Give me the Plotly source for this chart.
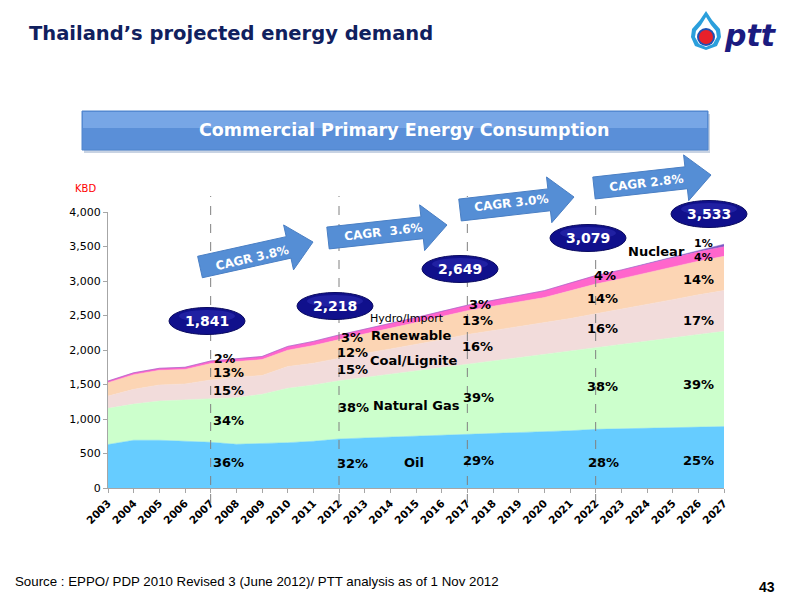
import math
import plotly.graph_objects as go

# ---- data (KBD) ----
years = [str(y) for y in range(2003, 2028)]

oil = [630, 692, 692, 677, 663, 634, 643, 657, 677, 710, 725, 738, 748,
       758, 768, 785, 800, 815, 830, 850, 858, 866, 874, 882, 890]
natural_gas = [524, 524, 568, 598, 626, 675, 715, 788, 816, 843, 877, 912, 952,
               992, 1033, 1065, 1095, 1125, 1155, 1182, 1222, 1264, 1306, 1343, 1380]
coal_lignite = [179, 214, 233, 233, 276, 296, 272, 315, 316, 332, 348, 365, 380,
                400, 424, 430, 440, 450, 470, 493, 510, 530, 550, 575, 592]
renewable = [192, 212, 212, 210, 239, 225, 231, 237, 256, 266, 282, 295, 317,
             334, 345, 355, 363, 370, 403, 431, 444, 460, 476, 487, 495]
hydro_import = [25, 28, 30, 32, 37, 40, 45, 55, 60, 67, 68, 70, 73,
                76, 79, 85, 92, 100, 112, 123, 126, 130, 134, 138, 141]
nuclear = [0] * 23 + [15, 35]

milestone_years = ["2007", "2012", "2017", "2022", "2027"]
milestone_totals = ["1,841", "2,218", "2,649", "3,079", "3,533"]
cagr_labels = ["CAGR 3.8%", "CAGR  3.6%", "CAGR 3.0%", "CAGR 2.8%"]

series = [
    ("Oil", oil, "#66CCFF"),
    ("Natural Gas", natural_gas, "#CCFFCC"),
    ("Coal/Lignite", coal_lignite, "#F2DCDB"),
    ("Renewable", renewable, "#FCD5B4"),
    ("Hydro/Import", hydro_import, "#FF66CC"),
    ("Nuclear", nuclear, "#7B5CC4"),
]

# ---- page geometry (pixels -> paper) ----
ML, MR, MT, MB = 108, 76, 212, 112
PW, PH = 800 - ML - MR, 600 - MT - MB


def px(x):
    return (x - ML) / PW


def py(y):
    return (600 - MB - y) / PH


def path_of(points):
    return "M " + " L ".join(f"{px(a):.4f},{py(b):.4f}" for a, b in points) + " Z"


def note(txt, x, y, size=13, color="black", bold=True, anchor="center", angle=0, family="DejaVu Sans"):
    return dict(x=px(x), y=py(y), xref="paper", yref="paper", text=txt, showarrow=False,
                xanchor=anchor, yanchor="middle", textangle=angle,
                font=dict(family=family, size=size, color=color,
                          weight="bold" if bold else "normal"))


fig = go.Figure()
for name, vals, col in series:
    fig.add_trace(go.Scatter(
        x=years, y=vals, name=name, stackgroup="one", mode="lines",
        line=dict(width=0.5, color=col), fillcolor=col, hoverinfo="skip"))

shapes = []
annotations = []

# dashed milestone lines
for yr in milestone_years[:4]:
    i = years.index(yr)
    shapes.append(dict(type="line", xref="x", yref="paper", x0=i, x1=i,
                       y0=py(503), y1=py(196),
                       line=dict(color="#808080", width=1, dash="dash")))

# CAGR arrows
arrows = [((200, 267), (313, 242)), ((328, 238), (447, 225)),
          ((460, 210), (574, 197)), ((594, 188), (711, 175))]
for (x0, y0), (x1, y1) in arrows:
    ang = math.atan2(y1 - y0, x1 - x0)
    ln = math.hypot(x1 - x0, y1 - y0)
    bh, hh, hl = 22, 46, 25
    loc = [(0, -bh / 2), (ln - hl, -bh / 2), (ln - hl, -hh / 2), (ln, 0),
           (ln - hl, hh / 2), (ln - hl, bh / 2), (0, bh / 2)]
    pts = [(x0 + u * math.cos(ang) - v * math.sin(ang),
            y0 + u * math.sin(ang) + v * math.cos(ang)) for u, v in loc]
    shapes.append(dict(type="path", xref="paper", yref="paper", path=path_of(pts),
                       fillcolor="#558ED5", line=dict(color="#4A7FC4", width=1)))

cagr_pos = [(252, 258, -13), (383, 232, -6.5), (511, 203, -6.5), (646, 183, -6.5)]
for (cx, cy, a), txt in zip(cagr_pos, cagr_labels):
    annotations.append(note(txt, cx, cy, size=12, color="white", angle=a))

# total bubbles
bubble_pos = [(207, 321), (335, 306), (460, 269), (588, 238), (709, 214)]
for (cx, cy), txt in zip(bubble_pos, milestone_totals):
    shapes.append(dict(type="circle", xref="paper", yref="paper",
                       x0=px(cx - 38), x1=px(cx + 38), y0=py(cy + 13.5), y1=py(cy - 13.5),
                       fillcolor="#10108C", line=dict(color="#0A0A60", width=1)))
    shapes.append(dict(type="circle", xref="paper", yref="paper",
                       x0=px(cx - 28), x1=px(cx + 28), y0=py(cy + 1), y1=py(cy - 11),
                       fillcolor="#2C2CB0", opacity=0.6, line=dict(width=0)))
    annotations.append(note(txt, cx, cy, size=14, color="white"))

# in-chart labels: (text, x, y, anchor, bold, size)
labels = [
    ("2%", 212, 358, "left", True, 12.5), ("13%", 211, 372, "left", True, 13),
    ("15%", 211, 390, "left", True, 13), ("34%", 211, 420, "left", True, 13),
    ("36%", 211, 462, "left", True, 13),
    ("3%", 339, 337, "left", True, 13), ("12%", 335, 352, "left", True, 13),
    ("15%", 335, 369, "left", True, 13), ("38%", 336, 407, "left", True, 13),
    ("32%", 335, 463, "left", True, 13),
    ("Hydro/Import", 368, 318, "left", False, 11), ("Renewable", 369, 335, "left", True, 13),
    ("Coal/Lignite", 368, 360, "left", True, 13), ("Natural Gas", 371, 405, "left", True, 13),
    ("Oil", 414, 462, "center", True, 13),
    ("3%", 480, 304, "center", True, 13), ("13%", 460, 320, "left", True, 13),
    ("16%", 460, 346, "left", True, 13), ("39%", 461, 397, "left", True, 13),
    ("29%", 461, 460, "left", True, 13),
    ("4%", 605, 275, "center", True, 13), ("14%", 585, 298, "left", True, 13),
    ("16%", 585, 328, "left", True, 13), ("38%", 585, 386, "left", True, 13),
    ("28%", 586, 462, "left", True, 13),
    ("Nuclear", 656, 251, "center", True, 13), ("1%", 703, 243, "center", True, 11),
    ("4%", 703, 257, "center", True, 11), ("14%", 698, 279, "center", True, 13),
    ("17%", 698, 320, "center", True, 13), ("39%", 698, 384, "center", True, 13),
    ("25%", 698, 460, "center", True, 13),
]
for txt, x, y, anc, bold, size in labels:
    annotations.append(note(txt, x, y, size=size, bold=bold, anchor=anc))

# KBD unit
annotations.append(note("KBD", 85, 188, size=10, color="#FF0000", bold=False))

# banner
shapes.append(dict(type="rect", xref="paper", yref="paper", x0=px(84), x1=px(710),
                   y0=py(153), y1=py(114), fillcolor="#C8D3E3", line=dict(width=0)))
shapes.append(dict(type="rect", xref="paper", yref="paper", x0=px(82), x1=px(708),
                   y0=py(150), y1=py(111), fillcolor="#5A8FD8", line=dict(color="#4F84CC", width=1)))
shapes.append(dict(type="rect", xref="paper", yref="paper", x0=px(83), x1=px(707),
                   y0=py(128), y1=py(112), fillcolor="#77A6E6", line=dict(width=0)))
annotations.append(note("Commercial Primary Energy Consumption", 404, 130, size=17.5, color="white"))

# title
annotations.append(note("Thailand’s projected energy demand", 27, 33, size=19.5,
                        color="#10205E", anchor="left"))

# ptt logo
drop_outer = [(706, 11), (712, 20), (720, 29), (721, 37), (717, 46), (706, 50),
              (695, 46), (691, 37), (692, 29), (700, 20)]
drop_white = [(706, 17), (711, 25), (716, 31), (717, 37), (713, 44), (706, 47),
              (699, 44), (695, 37), (696, 31), (701, 25)]
shapes.append(dict(type="path", xref="paper", yref="paper", path=path_of(drop_outer),
                   fillcolor="#2B9FDC", line=dict(width=0)))
shapes.append(dict(type="path", xref="paper", yref="paper", path=path_of(drop_white),
                   fillcolor="white", line=dict(width=0)))
shapes.append(dict(type="circle", xref="paper", yref="paper", x0=px(697), x1=px(715),
                   y0=py(46), y1=py(28), fillcolor="#1E50B4", line=dict(width=0)))
shapes.append(dict(type="circle", xref="paper", yref="paper", x0=px(699), x1=px(713),
                   y0=py(44), y1=py(30), fillcolor="#E8202A", line=dict(width=0)))
annotations.append(note("<i>ptt</i>", 722, 35, size=30, color="#1B1B80", anchor="left"))

# source and page number
annotations.append(note("Source : EPPO/ PDP 2010 Revised 3 (June 2012)/ PTT analysis as of 1 Nov 2012",
                        13, 581, size=13.3, bold=False, anchor="left", family="Liberation Sans"))
annotations.append(note("43", 767, 587, size=14, family="Liberation Sans"))

fig.update_layout(
    width=800, height=600,
    margin=dict(l=ML, r=MR, t=MT, b=MB),
    paper_bgcolor="white", plot_bgcolor="white",
    showlegend=False,
    shapes=shapes, annotations=annotations,
    xaxis=dict(type="category", range=[0, len(years) - 1], showgrid=False,
               showline=True, linecolor="#A6A6A6", ticks="outside", ticklen=4,
               tickcolor="#A6A6A6", tickangle=-45,
               tickfont=dict(family="DejaVu Sans", size=10.5, color="black", weight="bold")),
    yaxis=dict(range=[0, 4000], dtick=500, tickformat=",", showgrid=False, zeroline=False,
               showline=True, linecolor="#A6A6A6", ticks="outside", ticklen=4,
               tickcolor="#A6A6A6",
               tickfont=dict(family="DejaVu Sans", size=11, color="black")),
)

fig.write_html("out.html", config={"displayModeBar": False},
               post_script="document.body.style.margin='0';")
